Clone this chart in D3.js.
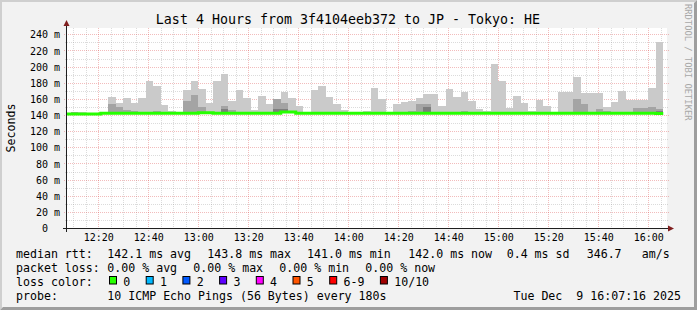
<!DOCTYPE html>
<html><head><meta charset="utf-8">
<script src="https://cdn.jsdelivr.net/npm/d3@7"></script>
<style>
body{margin:0;background:#f2f2f2}
svg{display:block}
text{font-family:"DejaVu Sans Mono",monospace;fill:#000}
</style>
</head><body>
<svg id="chart" width="697" height="310"></svg>
<script>
// ---------------- data ----------------
const title = "Last 4 Hours from 3f4104eeb372 to JP - Tokyo: HE";
const yAxisTitle = "Seconds";
const watermark = "RRDTOOL / TOBI OETIKER";
const firstStepTime = "2025-12-09 12:06:00";
const stepMinutes = 3;
const viewStart = "2025-12-09 12:07:30";
const viewEnd = "2025-12-09 16:07:30";

// median rtt per 3-minute step (ms)
const median = [
 141.1,141.1,141.1,141.1,141.1,142.1,142.1,142.1,142.1,142.1,
 142.1,142.1,142.1,142.1,142.1,142.1,142.1,142.1,142.9,142.9,
 142.1,142.1,142.1,142.1,142.1,142.1,142.1,142.1,142.1,143.8,
 143.8,142.1,142.1,142.1,142.1,142.1,142.1,142.1,142.1,142.1,
 142.1,142.1,142.1,142.1,142.1,142.1,142.1,142.1,142.1,142.1,
 142.1,142.1,142.1,142.1,142.1,142.1,142.1,142.1,142.1,142.1,
 142.1,142.1,142.1,142.1,142.1,142.1,142.1,142.1,142.1,142.1,
 142.1,142.1,142.1,142.1,142.1,142.1,142.1,142.1,142.1,142.0
];
// highest ping (ms)
const pingMax = [
 141.1,143.7,143.5,141.1,141.1,142.1,162.3,154.9,161.0,154.9,
 161.0,182.2,176.4,152.4,145.4,144.0,171.0,182.2,172.2,155.3,
 182.2,190.8,157.8,171.0,161.5,146.5,164.0,154.0,159.4,168.9,
 160.6,151.2,144.0,171.0,176.0,162.3,153.7,146.2,142.1,142.1,
 145.0,173.5,159.9,142.1,153.7,156.1,157.8,160.6,166.0,166.0,
 151.2,172.2,161.9,168.5,157.4,147.5,145.0,203.2,182.2,149.0,
 163.6,155.3,145.0,158.6,151.2,142.1,168.9,168.9,187.1,167.3,
 167.3,167.3,150.3,156.5,169.8,158.6,158.0,158.0,173.1,230.5
];
// second highest ping (ms)
const ping9 = [
 141.1,143.3,141.1,141.1,141.1,142.1,153.7,149.9,146.2,145.5,
 143.5,142.1,145.0,143.5,142.1,142.1,157.8,164.8,150.3,143.5,
 144.0,151.5,146.0,143.5,142.1,142.1,143.5,142.1,159.4,155.3,
 143.5,142.1,142.1,142.1,142.1,142.1,142.1,143.5,142.1,142.1,
 142.1,142.1,142.1,142.1,142.1,142.1,145.0,153.7,153.7,142.1,
 142.1,142.1,142.1,144.5,142.1,142.1,142.1,144.0,142.1,142.1,
 143.5,142.1,142.1,143.5,142.1,142.1,142.1,142.1,159.9,153.7,
 142.1,147.5,145.0,144.0,142.1,142.1,149.0,149.0,150.3,147.0
];
// third highest ping (ms)
const ping8 = [
 141.1,141.1,141.1,141.1,141.1,142.1,142.1,142.1,142.1,142.1,
 142.1,142.1,142.1,142.1,142.1,142.1,142.1,142.1,142.1,142.1,
 142.1,147.5,142.1,142.1,142.1,142.1,142.1,142.1,147.5,147.5,
 142.1,142.1,142.1,142.1,142.1,142.1,142.1,142.1,142.1,142.1,
 142.1,142.1,142.1,142.1,142.1,142.1,142.1,142.1,150.0,142.1,
 142.1,142.1,142.1,142.1,142.1,142.1,142.1,142.1,142.1,142.1,
 142.1,142.1,142.1,142.1,142.1,142.1,142.1,142.1,142.1,142.1,
 142.1,142.1,142.1,142.1,142.1,142.1,142.1,142.1,142.1,145.0
];

const yMax = 247.8;
const yTicks = [0,20,40,60,80,100,120,140,160,180,200,220,240];
const yTickLabels = ["0  ","20 m","40 m","60 m","80 m","100 m","120 m","140 m","160 m","180 m","200 m","220 m","240 m"];
const xTickLabels = ["12:20","12:40","13:00","13:20","13:40","14:00","14:20","14:40","15:00","15:20","15:40","16:00"];

const rttLabel = "median rtt:";
const rttItems = ["142.1 ms avg","143.8 ms max","141.0 ms min","142.0 ms now","0.4 ms sd","346.7","am/s"];
const lossLabel = "packet loss:";
const lossItems = ["0.00 % avg","0.00 % max","0.00 % min","0.00 % now"];
const lossColorLabel = "loss color:";
const lossNames = ["0","1","2","3","4","5","6-9","10/10"];
const lossColors = ["#26ff00","#00b8ff","#0059ff","#5e00ff","#ff00ff","#ff5500","#ff0000","#a00000"];
const probeLabel = "probe:";
const probeText = "10 ICMP Echo Pings (56 Bytes) every 180s";
const stampText = "Tue Dec  9 16:07:16 2025";

// ---------------- drawing ----------------
const W = 697, H = 310;
const svg = d3.select("#chart");
const parse = d3.timeParse("%Y-%m-%d %H:%M:%S");
const X0 = 67, X1 = 667, Y0 = 228, Y1 = 28;
const x = d3.scaleTime().domain([parse(viewStart), parse(viewEnd)]).range([X0, X1]);
const y = d3.scaleLinear().domain([0, yMax]).range([Y0, Y1]);

// background and frame shading
svg.append("rect").attr("width", W).attr("height", H).attr("fill", "#f2f2f2");
svg.append("polygon").attr("points", `0,0 ${W},0 ${W-2},2 2,2 2,${H-2} 0,${H}`).attr("fill", "#cfcfcf");
svg.append("polygon").attr("points", `${W},0 ${W},${H} 0,${H} 3,${H-3} ${W-3},${H-3} ${W-3},3`).attr("fill", "#9e9e9e");

// canvas
svg.append("rect").attr("x", X0).attr("y", Y1).attr("width", X1 - X0).attr("height", Y0 - Y1).attr("fill", "#fff");

svg.append("clipPath").attr("id", "plotclip").append("rect")
  .attr("x", X0).attr("y", Y1).attr("width", X1 - X0).attr("height", Y0 - Y1);

// grid
const gGrid = svg.append("g");
const minorColor = "rgba(143,143,143,0.32)";
const majorColor = "rgba(222,79,79,0.38)";
const t0 = parse(viewStart), t1 = parse(viewEnd);
const minorTimes = d3.timeMinute.every(5).range(t0, t1).filter(d => d.getMinutes() % 20 !== 0);
const majorTimes = xTickLabels.map(s => parse("2025-12-09 " + s + ":00"));
const minorVals = d3.range(10, yMax, 20);

gGrid.selectAll("line.vmin").data(minorTimes).enter().append("line")
  .attr("x1", d => Math.round(x(d)) + 0.5).attr("x2", d => Math.round(x(d)) + 0.5)
  .attr("y1", Y1).attr("y2", Y0 + 2)
  .attr("stroke", minorColor).attr("stroke-dasharray", "1,1");
gGrid.selectAll("line.hmin").data(minorVals).enter().append("line")
  .attr("y1", d => Math.round(y(d)) + 0.5).attr("y2", d => Math.round(y(d)) + 0.5)
  .attr("x1", X0 - 2).attr("x2", X1 + 2)
  .attr("stroke", minorColor).attr("stroke-dasharray", "1,1");
gGrid.selectAll("line.vmaj").data(majorTimes).enter().append("line")
  .attr("x1", d => Math.round(x(d)) + 0.5).attr("x2", d => Math.round(x(d)) + 0.5)
  .attr("y1", Y1).attr("y2", Y0 + 3)
  .attr("stroke", majorColor).attr("stroke-dasharray", "1,1");
gGrid.selectAll("line.hmaj").data(yTicks.filter(v => v > 0)).enter().append("line")
  .attr("y1", d => Math.round(y(d)) + 0.5).attr("y2", d => Math.round(y(d)) + 0.5)
  .attr("x1", X0 - 3).attr("x2", X1 + 3)
  .attr("stroke", majorColor).attr("stroke-dasharray", "1,1");

// smoke
const stepTimes = median.map((m, i) => d3.timeMinute.offset(parse(firstStepTime), i * stepMinutes));
const gPlot = svg.append("g").attr("clip-path", "url(#plotclip)");
const layers = [
  {vals: pingMax, color: "#cacaca"},
  {vals: ping9, color: "#a4a4a4"},
  {vals: ping8, color: "#7e7e7e"}
];
layers.forEach(L => {
  gPlot.append("g").selectAll("rect").data(stepTimes).enter().append("rect")
    .attr("x", d => x(d))
    .attr("width", d => x(d3.timeMinute.offset(d, stepMinutes)) - x(d))
    .attr("y", (d, i) => y(Math.max(L.vals[i], median[i])))
    .attr("height", (d, i) => Math.max(0, y(median[i]) - y(L.vals[i])))
    .attr("fill", L.color)
    .attr("shape-rendering", "crispEdges");
});

// median line
const linePts = stepTimes.map((t, i) => [t, median[i]]);
linePts.push([d3.timeMinute.offset(stepTimes[stepTimes.length - 1], stepMinutes), median[median.length - 1]]);
gPlot.append("path").datum(linePts)
  .attr("d", d3.line().x(d => x(d[0])).y(d => y(d[1])).curve(d3.curveStepAfter))
  .attr("fill", "none").attr("stroke", lossColors[0]).attr("stroke-width", 3);

// axes lines and arrows
const axisColor = "#1f1f1f", arrowColor = "#801f1f";
svg.append("line").attr("x1", X0 - 4).attr("x2", X1 + 4).attr("y1", Y0 + 0.5).attr("y2", Y0 + 0.5).attr("stroke", axisColor);
svg.append("line").attr("x1", X0 - 0.5).attr("x2", X0 - 0.5).attr("y1", Y0 + 4).attr("y2", Y1 - 3).attr("stroke", axisColor);
svg.append("path").attr("d", `M${X0 - 3.5},${Y1 - 2} L${X0 + 2.5},${Y1 - 2} L${X0 - 0.5},${Y1 - 8} Z`).attr("fill", arrowColor);
svg.append("path").attr("d", `M${X1 + 1},${Y0 - 2.5} L${X1 + 1},${Y0 + 3.5} L${X1 + 7},${Y0 + 0.5} Z`).attr("fill", arrowColor);

// y axis labels
const yAxis = d3.axisLeft(y).tickValues(yTicks).tickFormat((d, i) => yTickLabels[i]).tickSize(0).tickPadding(7);
const gy = svg.append("g").attr("transform", `translate(${X0},0)`).call(yAxis);
gy.select(".domain").remove();
gy.selectAll("text").attr("font-family", "DejaVu Sans Mono").attr("font-size", "10px").attr("fill", "#000")
  .attr("dy", "0.36em").style("white-space", "pre");

// x axis labels
const xAxis = d3.axisBottom(x).tickValues(majorTimes).tickFormat((d, i) => xTickLabels[i]).tickSize(0).tickPadding(6);
const gx = svg.append("g").attr("transform", `translate(0,${Y0})`).call(xAxis);
gx.select(".domain").remove();
gx.selectAll("text").attr("font-family", "DejaVu Sans Mono").attr("font-size", "10px").attr("fill", "#000");

// title
svg.append("text").attr("x", 348).attr("y", 23.5).attr("text-anchor", "middle")
  .attr("font-size", "13.3px").text(title);

// y axis title
svg.append("text").attr("transform", `translate(15,${(Y0 + Y1) / 2}) rotate(-90)`)
  .attr("text-anchor", "middle").attr("font-size", "11.6px").text(yAxisTitle);

// watermark
svg.append("text").attr("transform", `translate(684.5,4) rotate(90)`)
  .style("font-size", "8.8px").style("fill", "#a8a8a8").text(watermark);

// legend
const LF = "11.6px", CW = 7.0, GAP = 16;
const rowY = [258, 272, 286, 300];
const leftX = 16, colX = 107.3;
function label(txt, xx, yy, anchor) {
  svg.append("text").attr("x", xx).attr("y", yy).attr("font-size", LF)
    .attr("text-anchor", anchor || "start").style("white-space", "pre").text(txt);
}
label(rttLabel, leftX, rowY[0]);
{
  const xs = [107.3, 207.3, 307, 408.3, 506.7, 586.7, 641.7];
  rttItems.forEach((t, i) => label(t, xs[i], rowY[0]));
}
label(lossLabel, leftX, rowY[1]);
lossItems.forEach((t, i) => label(t, colX + i * (10 * CW + GAP), rowY[1]));
label(lossColorLabel, leftX, rowY[2]);
{
  let bx = 109;
  lossNames.forEach((n, i) => {
    svg.append("rect").attr("x", bx + 0.5).attr("y", rowY[2] - 9.5).attr("width", 7).attr("height", 7.5)
      .attr("fill", lossColors[i]).attr("stroke", "#000").attr("stroke-width", 1);
    const lx = bx + 14.3;
    label(n, lx, rowY[2]);
    bx = lx + n.length * CW + 15.4;
  });
}
label(probeLabel, leftX, rowY[3]);
label(probeText, colX, rowY[3]);
label(stampText, 681, rowY[3], "end");
</script>
</body></html>
